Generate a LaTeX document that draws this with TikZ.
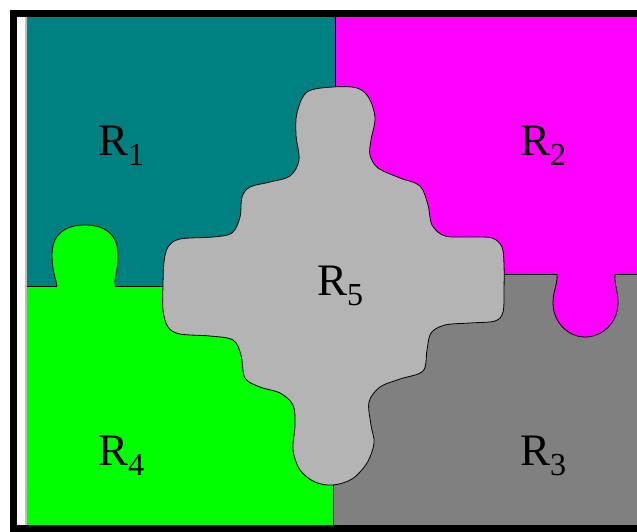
\documentclass[tikz,border=0pt]{standalone}
\usepackage{fontspec}
\setmainfont{Liberation Serif}
\usepackage{tikz}

\definecolor{regteal}{RGB}{0,128,128}
\definecolor{regmagenta}{RGB}{255,0,255}
\definecolor{reggreen}{RGB}{0,255,0}
\definecolor{regdark}{RGB}{128,128,128}
\definecolor{reglight}{RGB}{180,180,180}

% region label with lowered index
\newcommand{\reg}[1]{R\raisebox{-10pt}{\fontsize{32}{32}\selectfont #1}}

\begin{document}
\begin{tikzpicture}[x=1pt, y=-1pt, line join=round,
    edge/.style={draw=black, line width=0.8pt},
    lbl/.style={inner sep=0pt, anchor=base west, font=\fontsize{45}{45}\selectfont}]
    \useasboundingbox (0,0) rectangle (637,532);
    \fill[white] (0,0) rectangle (637,532);

    % four quarters
    \fill[regteal]    (27,17)   rectangle (335,286);
    \fill[regmagenta] (335,17)  rectangle (637,274);
    \fill[reggreen]   (27,286)  rectangle (333,525);
    \fill[regdark]    (333,274) rectangle (637,525);

    \draw[edge] (27,286) -- (57,286) (115,286) -- (163,286);
    \draw[edge] (505,274) -- (557,274) (615,274) -- (637,274);
    \draw[edge] (335,17) -- (335,95);
    \draw[edge] (333,484) -- (333,525);

    % knobs
    \path[fill=reggreen, edge] (57,286) .. controls (56,278) and (52,272) .. (52,255)
        .. controls (52,232) and (68,225) .. (85,225)
        .. controls (102,225) and (118,232) .. (118,255)
        .. controls (118,272) and (114,278) .. (115,286);
    \path[fill=regmagenta, edge] (557,274) .. controls (558,284) and (553,290) .. (553,303)
        .. controls (553,322) and (568,337) .. (585,337)
        .. controls (603,337) and (618,322) .. (618,303)
        .. controls (618,290) and (614,284) .. (615,274);

    % middle piece
    \path[fill=reglight, edge] plot[smooth cycle, tension=0.55] coordinates {
        (333,87) (357,88) (369,98) (375,118) (371,140) (370,155) (378,168)
        (400,178) (420,186) (428,205) (432,225) (445,236) (470,237) (492,238)
        (502,247) (504,265) (504,290) (503,312) (495,321) (470,323) (445,325)
        (431,333) (427,350) (423,371) (400,379) (380,387) (369,402) (371,425)
        (374,443) (367,463) (352,479) (333,485) (315,482) (300,470) (293,450)
        (295,425) (293,405) (280,393) (260,387) (245,378) (241,355) (233,340)
        (210,336) (180,334) (168,327) (163,310) (163,285) (164,262) (168,247)
        (180,239) (213,237) (232,233) (240,217) (242,197) (250,187) (270,182)
        (290,176) (299,160) (296,135) (297,113) (307,92)};

    % frame
    \fill[black] (10,10) rectangle (637,17);
    \fill[black] (10,10) rectangle (17,532);
    \fill[black] (10,525) rectangle (637,532);
    \draw[black!25, line width=2pt] (25.5,17) -- (25.5,525);

    \node[lbl] (r1) at (98,155)  {\reg{1}};
    \node[lbl] (r2) at (520,155) {\reg{2}};
    \node[lbl] (r3) at (520,465) {\reg{3}};
    \node[lbl] (r4) at (98,465)  {\reg{4}};
    \node[lbl] (r5) at (317,295) {\reg{5}};
\end{tikzpicture}
\end{document}
